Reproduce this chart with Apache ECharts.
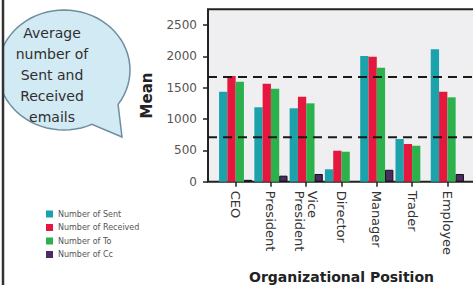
<!DOCTYPE html>
<html>
<head>
<meta charset="utf-8">
<script src="https://cdn.jsdelivr.net/npm/echarts@6/dist/echarts.min.js"></script>
<style>
  html, body { margin: 0; padding: 0; background: #fff; }
  #chart { width: 473px; height: 285px; }
</style>
</head>
<body>
<div id="chart"></div>
<script>
// data
const positions = ['CEO', 'President', 'Vice\nPresident', 'Director', 'Manager', 'Trader', 'Employee']
const sentCounts = [1435, 1187, 1171, 198, 2005, 681, 2112]
const receivedCounts = [1686, 1563, 1356, 494, 1994, 601, 1435]
const toCounts = [1595, 1483, 1250, 478, 1818, 574, 1346]
const ccCounts = [30, 96, 123, null, 190, null, 123]
const refLines = [1670, 710]
const seriesNames = ['Number of Sent', 'Number of Received', 'Number of To', 'Number of Cc']
const yMax = 2750
const yStep = 500

const colors = ['#1ba2aa', '#e5173f', '#2db14c', '#4e2a63']
const font = 'DejaVu Sans'

const chart = echarts.init(document.getElementById('chart'), null, { renderer: 'svg' })

const barSeries = [sentCounts, receivedCounts, toCounts, ccCounts].map((vals, i) => ({
  name: seriesNames[i],
  type: 'bar',
  xAxisIndex: 1,
  yAxisIndex: 1,
  barGap: '0%',
  barCategoryGap: '6%',
  itemStyle: i === 3
    ? { color: colors[i], borderColor: '#111', borderWidth: 1 }
    : { color: colors[i] },
  z: 3,
  data: vals
}))

// dashed reference lines across the whole frame
const refSeries = refLines.map(v => ({
  type: 'line',
  xAxisIndex: 0,
  yAxisIndex: 0,
  symbol: 'none',
  silent: true,
  z: 5,
  lineStyle: { color: '#1a1a1a', width: 2, type: [9, 6] },
  data: [[0, v], [1, v]]
}))

// speech bubble outline: ellipse with a tail at the lower right
function bubblePoints(cx, cy, rx, ry) {
  const pts = []
  for (let a = 35; a >= -295; a -= 5) {
    const t = a * Math.PI / 180
    pts.push([cx + rx * Math.cos(t), cy + ry * Math.sin(t)])
  }
  pts.push([122, 137])
  return pts
}

const option = {
  animation: false,
  textStyle: { fontFamily: font },
  grid: [
    // frame + background
    { left: 208, right: -3, top: 9.3, bottom: 103.3, show: true, outerBoundsMode: 'none',
      backgroundColor: '#efeff1', borderColor: '#222', borderWidth: 2 },
    // bars
    { left: 218, width: 247, top: 9.3, bottom: 103.3, outerBoundsMode: 'none' }
  ],
  xAxis: [
    { gridIndex: 0, type: 'value', min: 0, max: 1, show: false },
    {
      gridIndex: 1,
      type: 'category',
      data: positions,
      axisLine: { show: false },
      axisTick: { show: true, alignWithLabel: true, length: 5, lineStyle: { color: '#222', width: 1.5 } },
      axisLabel: { rotate: -90, margin: 9, fontSize: 13, lineHeight: 13, color: '#333', fontFamily: font },
      name: 'Organizational Position',
      nameLocation: 'middle',
      nameGap: 88,
      nameMoveOverlap: false,
      nameTextStyle: { fontSize: 14, fontWeight: 'bold', color: '#222', fontFamily: font }
    }
  ],
  yAxis: [
    { gridIndex: 0, type: 'value', min: 0, max: yMax, show: false },
    {
      gridIndex: 1,
      type: 'value',
      min: 0,
      max: yMax,
      interval: yStep,
      offset: 10,
      axisLine: { show: false },
      axisTick: { show: true, length: 5, lineStyle: { color: '#222', width: 1.5 } },
      splitLine: { show: false },
      axisLabel: { showMaxLabel: false, margin: 11, fontSize: 12, color: '#555', fontFamily: font,
        formatter: v => String(v) },
      name: 'Mean',
      nameLocation: 'middle',
      nameGap: 54,
      nameMoveOverlap: false,
      nameTextStyle: { fontSize: 15, fontWeight: 'bold', color: '#222', fontFamily: font }
    }
  ],
  legend: {
    orient: 'vertical',
    left: 46,
    top: 210,
    padding: 0,
    itemWidth: 7,
    itemHeight: 7,
    itemGap: 5.5,
    icon: 'rect',
    itemStyle: { borderWidth: 0 },
    textStyle: { fontSize: 8, lineHeight: 7, color: '#555', fontFamily: font },
    data: seriesNames
  },
  graphic: [
    {
      type: 'polygon',
      z: 10,
      shape: { points: bubblePoints(64, 70, 66, 60) },
      style: { fill: '#d2eaf4', stroke: '#6d8ea0', lineWidth: 1.5 }
    },
    {
      type: 'text',
      z: 11,
      x: 52,
      y: 22,
      style: {
        text: 'Average\nnumber of\nSent and\nReceived\nemails',
        align: 'center',
        fontSize: 14,
        lineHeight: 21,
        fill: '#2f2f2f',
        fontFamily: font
      }
    },
    {
      type: 'rect',
      z: 12,
      shape: { x: 0, y: 0, width: 2, height: 285 },
      style: { fill: '#fff' }
    },
    {
      type: 'line',
      z: 12,
      shape: { x1: 3, y1: 0, x2: 3, y2: 285 },
      style: { stroke: '#333', lineWidth: 2.5 }
    }
  ],
  series: barSeries.concat(refSeries)
}

chart.setOption(option)
</script>
</body>
</html>
